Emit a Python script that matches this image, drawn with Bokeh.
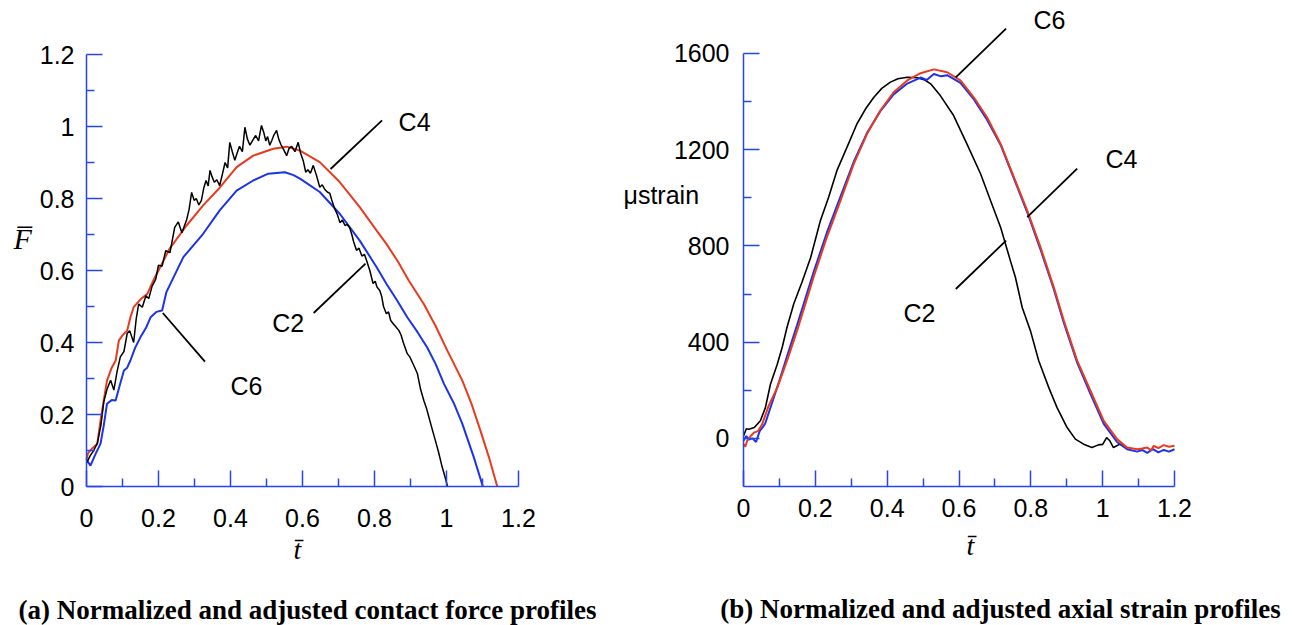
from bokeh.plotting import figure
from bokeh.models import Range1d, FixedTicker, Label, LinearAxis
from bokeh.layouts import row
from bokeh.embed import file_html
from bokeh.resources import INLINE

# ---------------- data: (a) contact force ----------------
A_X_TICKS = [0, 0.2, 0.4, 0.6, 0.8, 1, 1.2]
A_X_TICK_LABELS = ["0", "0.2", "0.4", "0.6", "0.8", "1", "1.2"]
A_X_MINOR = [0.1, 0.3, 0.5, 0.7, 0.9, 1.1]
A_Y_TICKS = [0, 0.2, 0.4, 0.6, 0.8, 1, 1.2]
A_Y_TICK_LABELS = ["0", "0.2", "0.4", "0.6", "0.8", "1", "1.2"]
A_Y_MINOR = [0.1, 0.3, 0.5, 0.7, 0.9, 1.1]

a_c2_t = [0.000, 0.010, 0.020, 0.030, 0.040, 0.048, 0.057, 0.067, 0.076, 0.085, 0.094, 0.104,
          0.113, 0.120, 0.131, 0.138, 0.145, 0.155, 0.165, 0.173, 0.182, 0.192, 0.200, 0.210,
          0.220, 0.232, 0.245, 0.255, 0.265, 0.278, 0.285, 0.292, 0.299, 0.305, 0.312, 0.319,
          0.326, 0.332, 0.338, 0.343, 0.349, 0.355, 0.362, 0.370, 0.378, 0.385, 0.392, 0.398,
          0.405, 0.412, 0.418, 0.425, 0.433, 0.440, 0.447, 0.454, 0.462, 0.470, 0.478, 0.486,
          0.492, 0.498, 0.503, 0.509, 0.515, 0.520, 0.528, 0.534, 0.540, 0.548, 0.556, 0.563,
          0.570, 0.579, 0.588, 0.595, 0.602, 0.609, 0.615, 0.622, 0.630, 0.640, 0.648, 0.655,
          0.662, 0.669, 0.676, 0.683, 0.690, 0.697, 0.704, 0.711, 0.718, 0.724, 0.731, 0.737,
          0.742, 0.750, 0.757, 0.765, 0.772, 0.778, 0.787, 0.796, 0.802, 0.807, 0.815, 0.820,
          0.825, 0.833, 0.839, 0.845, 0.852, 0.858, 0.868, 0.874, 0.880, 0.891, 0.898, 0.905,
          0.912, 0.919, 0.928, 0.937, 0.945, 0.951, 0.960, 0.969, 0.978, 0.988, 0.995, 1.003]
a_c2_f = [0.065, 0.085, 0.100, 0.120, 0.170, 0.235, 0.270, 0.295, 0.268, 0.320, 0.360, 0.375,
          0.425, 0.433, 0.400, 0.465, 0.507, 0.498, 0.530, 0.522, 0.556, 0.575, 0.615, 0.612,
          0.655, 0.650, 0.720, 0.735, 0.705, 0.740, 0.770, 0.817, 0.795, 0.800, 0.782, 0.794,
          0.830, 0.850, 0.835, 0.878, 0.860, 0.845, 0.852, 0.836, 0.870, 0.900, 0.885, 0.956,
          0.930, 0.906, 0.925, 0.945, 0.930, 0.998, 0.965, 0.948, 0.962, 0.975, 0.960, 1.003,
          0.985, 0.960, 0.972, 0.948, 0.962, 0.975, 0.989, 0.965, 0.950, 0.935, 0.919, 0.940,
          0.945, 0.930, 0.956, 0.925, 0.905, 0.873, 0.880, 0.870, 0.892, 0.860, 0.831, 0.838,
          0.825, 0.818, 0.814, 0.790, 0.770, 0.755, 0.733, 0.740, 0.725, 0.728, 0.719, 0.700,
          0.680, 0.656, 0.662, 0.640, 0.645, 0.628, 0.600, 0.564, 0.570, 0.554, 0.544, 0.528,
          0.500, 0.480, 0.485, 0.461, 0.452, 0.445, 0.433, 0.420, 0.400, 0.369, 0.360, 0.345,
          0.330, 0.314, 0.270, 0.239, 0.215, 0.193, 0.160, 0.128, 0.095, 0.054, 0.030, 0.000]

a_c4_t = [0.000, 0.004, 0.015, 0.030, 0.039, 0.048, 0.057, 0.070, 0.081, 0.090, 0.100, 0.113,
          0.122, 0.131, 0.150, 0.169, 0.187, 0.200, 0.231, 0.278, 0.324, 0.370, 0.417, 0.463,
          0.519, 0.556, 0.593, 0.648, 0.704, 0.759, 0.806, 0.833, 0.865, 0.895, 0.937, 0.970,
          1.002, 1.044, 1.070, 1.094, 1.118, 1.141]
a_c4_f = [0.075, 0.092, 0.105, 0.119, 0.183, 0.240, 0.294, 0.330, 0.350, 0.406, 0.420, 0.433,
          0.470, 0.498, 0.520, 0.535, 0.575, 0.600, 0.661, 0.725, 0.781, 0.830, 0.887, 0.919,
          0.938, 0.944, 0.933, 0.901, 0.845, 0.776, 0.711, 0.674, 0.625, 0.572, 0.507, 0.445,
          0.378, 0.294, 0.228, 0.156, 0.081, 0.000]

a_c6_t = [0.000, 0.011, 0.025, 0.039, 0.048, 0.057, 0.070, 0.081, 0.092, 0.104, 0.113, 0.122,
          0.135, 0.150, 0.165, 0.178, 0.194, 0.210, 0.222, 0.233, 0.269, 0.324, 0.370, 0.417,
          0.463, 0.505, 0.551, 0.575, 0.593, 0.648, 0.704, 0.759, 0.806, 0.833, 0.862, 0.891,
          0.920, 0.946, 0.970, 0.993, 1.020, 1.044, 1.076, 1.101]
a_c6_f = [0.075, 0.058, 0.090, 0.119, 0.170, 0.230, 0.240, 0.239, 0.280, 0.322, 0.330, 0.350,
          0.385, 0.415, 0.440, 0.470, 0.485, 0.489, 0.540, 0.563, 0.637, 0.702, 0.767, 0.822,
          0.850, 0.869, 0.873, 0.865, 0.855, 0.818, 0.757, 0.683, 0.609, 0.563, 0.518, 0.470,
          0.428, 0.387, 0.340, 0.285, 0.232, 0.174, 0.081, 0.000]

# ---------------- data: (b) axial strain ----------------
B_X_TICKS = [0, 0.2, 0.4, 0.6, 0.8, 1, 1.2]
B_X_TICK_LABELS = ["0", "0.2", "0.4", "0.6", "0.8", "1", "1.2"]
B_X_MINOR = [0.1, 0.3, 0.5, 0.7, 0.9, 1.1]
B_Y_TICKS = [0, 400, 800, 1200, 1600]
B_Y_TICK_LABELS = ["0", "400", "800", "1200", "1600"]
B_Y_MINOR = [200, 600, 1000, 1400]

b_c2_t = [0.000, 0.008, 0.015, 0.030, 0.047, 0.061, 0.075, 0.094, 0.108, 0.121, 0.140, 0.163,
          0.187, 0.214, 0.237, 0.260, 0.288, 0.316, 0.340, 0.363, 0.385, 0.409, 0.430, 0.456,
          0.484, 0.505, 0.521, 0.548, 0.585, 0.622, 0.660, 0.688, 0.716, 0.743, 0.757, 0.776,
          0.799, 0.822, 0.850, 0.873, 0.901, 0.924, 0.947, 0.970, 0.988, 1.000, 1.011, 1.020,
          1.030, 1.048, 1.057]
b_c2_v = [10, 40, 38, 45, 73, 128, 225, 308, 380, 461, 560, 650,
          752, 905, 1002, 1113, 1210, 1308, 1370, 1418, 1455, 1481, 1495, 1501,
          1499, 1490, 1474, 1425, 1342, 1224, 1100, 988, 877, 739, 670, 544,
          447, 323, 211, 128, 45, -3, -24, -38, -27, -25, 3, -10,
          -38, -24, -30]

b_c4_t = [0.000, 0.005, 0.010, 0.020, 0.029, 0.040, 0.052, 0.070, 0.094, 0.121, 0.149, 0.172,
          0.195, 0.232, 0.270, 0.307, 0.344, 0.381, 0.418, 0.456, 0.493, 0.530, 0.567, 0.604,
          0.641, 0.678, 0.716, 0.753, 0.790, 0.827, 0.864, 0.892, 0.929, 0.966, 1.003, 1.040,
          1.068, 1.096, 1.110, 1.124, 1.135, 1.142, 1.155, 1.170, 1.185, 1.200]
b_c4_v = [-24, -35, -10, 10, 24, 30, 59, 135, 211, 322, 447, 558,
          670, 836, 988, 1141, 1266, 1363, 1439, 1488, 1518, 1534, 1522, 1488,
          1418, 1335, 1224, 1085, 947, 794, 628, 489, 323, 198, 73, -3,
          -38, -45, -42, -38, -50, -31, -40, -28, -35, -31]

b_c6_t = [0.000, 0.008, 0.015, 0.025, 0.035, 0.045, 0.060, 0.080, 0.100, 0.121, 0.149, 0.172,
          0.195, 0.232, 0.270, 0.307, 0.344, 0.381, 0.418, 0.456, 0.493, 0.510, 0.530, 0.550,
          0.567, 0.604, 0.641, 0.678, 0.716, 0.753, 0.790, 0.827, 0.864, 0.892, 0.929, 0.966,
          1.003, 1.040, 1.068, 1.096, 1.110, 1.124, 1.140, 1.155, 1.170, 1.185, 1.200]
b_c6_v = [-10, 10, -5, 0, -15, 30, 60, 150, 240, 340, 470, 580,
          690, 855, 1005, 1150, 1270, 1360, 1430, 1475, 1500, 1490, 1515, 1505,
          1510, 1478, 1410, 1325, 1220, 1080, 940, 785, 620, 480, 315, 185,
          60, -15, -45, -55, -48, -60, -45, -58, -48, -55, -45]

# ---------------- styling ----------------
AXIS_BLUE = "#2545f2"
RED = "#ea3a1e"
BLUE = "#1b33ea"
SANS = "Liberation Sans"
SERIF = "Liberation Serif"


def style_axis(ax, ticks, labels, minors, standoff):
    ax.ticker = FixedTicker(ticks=ticks, minor_ticks=minors)
    ax.major_label_overrides = {t: l for t, l in zip(ticks, labels)}
    ax.axis_line_color = AXIS_BLUE
    ax.axis_line_width = 1.5
    ax.major_tick_line_color = AXIS_BLUE
    ax.minor_tick_line_color = AXIS_BLUE
    ax.major_tick_line_width = 1.5
    ax.minor_tick_line_width = 1.5
    ax.major_tick_in = 16
    ax.major_tick_out = 0
    ax.minor_tick_in = 8
    ax.minor_tick_out = 0
    ax.major_label_text_font = SANS
    ax.major_label_text_font_size = "25px"
    ax.major_label_text_color = "black"
    ax.major_label_standoff = standoff


def base_fig(width, x_range, y_range):
    p = figure(width=width, height=625, x_range=x_range, y_range=y_range,
               output_backend="svg", toolbar_location=None, title=None,
               x_axis_location=None, y_axis_location=None,
               min_border=0, min_border_left=0, min_border_right=0,
               min_border_top=0, min_border_bottom=0)
    p.outline_line_color = None
    p.xgrid.visible = False
    p.ygrid.visible = False
    p.background_fill_color = "white"
    p.border_fill_color = "white"
    return p


def add_axes(p, xt, xl, xm, x_standoff, yt, yl, ym, y_standoff, x_at, y_at, xb, yb):
    xa = LinearAxis(fixed_location=x_at, bounds=xb)
    style_axis(xa, xt, xl, xm, x_standoff)
    p.add_layout(xa, "below")
    ya = LinearAxis(fixed_location=y_at, bounds=yb)
    style_axis(ya, yt, yl, ym, y_standoff)
    p.add_layout(ya, "left")


def add_label(p, x, y, text, font=SANS, size="25px", style="normal", align="left"):
    p.add_layout(Label(x=x, y=y, text=text, text_font=font, text_font_size=size,
                       text_font_style=style, text_align=align,
                       text_baseline="middle", text_color="black"))


# ---------------- panel (a) ----------------
pa = base_fig(610, Range1d(-0.238889, 1.455556), Range1d(-0.386111, 1.35))
add_axes(pa, A_X_TICKS, A_X_TICK_LABELS, A_X_MINOR, 22,
         A_Y_TICKS, A_Y_TICK_LABELS, A_Y_MINOR, 12,
         0, 0, (0, 1.2), (0, 1.2))

pa.line(a_c4_t, a_c4_f, line_color=RED, line_width=2)
pa.line(a_c6_t, a_c6_f, line_color=BLUE, line_width=2)
pa.line(a_c2_t, a_c2_f, line_color="black", line_width=1.5)

pa.segment(x0=[0.678, 0.631, 0.212], y0=[0.882, 0.482, 0.482],
           x1=[0.821, 0.775, 0.329], y1=[1.017, 0.619, 0.347],
           line_color="black", line_width=1.8)
add_label(pa, 0.867, 1.0125, "C4")
add_label(pa, 0.516, 0.453, "C2")
add_label(pa, 0.400, 0.278, "C6")
add_label(pa, -0.2028, 0.690, "F\u0305", font=SERIF, size="30px", style="italic")
add_label(pa, 0.586, -0.175, "t\u0304", font=SERIF, size="28px", style="italic", align="center")
add_label(pa, 0.614, -0.3417, "(a) Normalized and adjusted contact force profiles",
          font=SERIF, size="27px", style="bold", align="center")

# ---------------- panel (b) ----------------
pb = base_fig(682, Range1d(-0.370302, 1.528538), Range1d(-777.83, 1820.32))
add_axes(pb, B_X_TICKS, B_X_TICK_LABELS, B_X_MINOR, 13,
         B_Y_TICKS, B_Y_TICK_LABELS, B_Y_MINOR, 14,
         -200, 0, (0, 1.2), (-200, 1600))

pb.line(b_c2_t, b_c2_v, line_color="black", line_width=1.6)
pb.line(b_c6_t, b_c6_v, line_color=BLUE, line_width=2)
pb.line(b_c4_t, b_c4_v, line_color=RED, line_width=2)

pb.segment(x0=[0.591, 0.790, 0.591], y0=[1501, 920, 621],
           x1=[0.731, 0.929, 0.731], y1=[1703, 1121, 822],
           line_color="black", line_width=1.8)
add_label(pb, 0.8074, 1741, "C6")
add_label(pb, 1.0079, 1159.5, "C4")
add_label(pb, 0.4455, 523, "C2")
add_label(pb, -0.3341, 1009.7, "\u03bcstrain", size="25px")
add_label(pb, 0.632, -445, "t\u0304", font=SERIF, size="28px", style="italic", align="center")
add_label(pb, 0.7155, -711.3, "(b) Normalized and adjusted axial strain profiles",
          font=SERIF, size="27px", style="bold", align="center")

layout = row(pa, pb)
open("out.html", "w").write(file_html(layout, INLINE))
